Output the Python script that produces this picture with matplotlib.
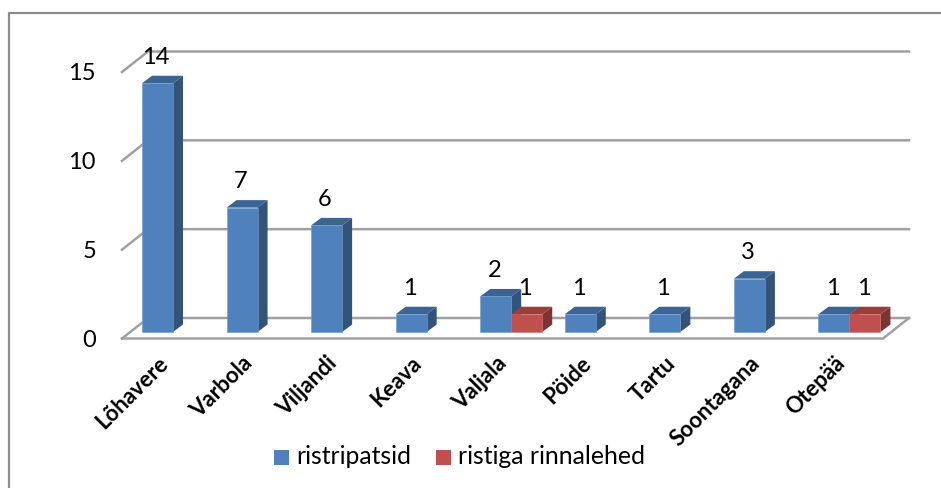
import matplotlib
matplotlib.use('Agg')
import matplotlib.pyplot as plt
from matplotlib.patches import Polygon, Rectangle

categories = ['Lõhavere', 'Varbola', 'Viljandi', 'Keava', 'Valjala',
              'Pöide', 'Tartu', 'Soontagana', 'Otepää']
ristripatsid = [14, 7, 6, 1, 2, 1, 1, 3, 1]
rinnalehed = [None, None, None, None, 1, None, None, None, 1]
y_ticks = [0, 5, 10, 15]

W, H = 941, 488
plt.rcParams['font.family'] = ['Lato', 'DejaVu Sans']

fig = plt.figure(figsize=(W / 100, H / 100), dpi=100)
# kogu pilti kattev abitelg pikslites, raam ja legend
bg = fig.add_axes([0, 0, 1, 1])
bg.set_xlim(0, W)
bg.set_ylim(H, 0)
bg.axis('off')
bg.plot([9, 9, W], [H, 13, 13], color='#8c8c8c', lw=1.6)

# põhitelg: x kategooriad, y väärtused
x0, x1, y0, y15 = 122, 883, 338.5, 72
ax = fig.add_axes([x0 / W, 1 - y0 / H, (x1 - x0) / W, (y0 - y15) / H])
ax.set_xlim(0, len(categories))
ax.set_ylim(0, 15)
ax.axis('off')

px_x = len(categories) / (x1 - x0)
px_y = 15 / (y0 - y15)
depth_x, depth_y = 26 * px_x, 20.5 * px_y
side_x, side_y = 10 * px_x, 7.5 * px_y
lift_x, lift_y = 20 * px_x, 6.5 * px_y
bar_w = 31 * px_x
grid = '#a0a0a0'

# seinajooned ja põrand
n = len(categories)
for t in y_ticks:
    ax.plot([0, depth_x, n + depth_x], [t, t + depth_y, t + depth_y],
            color=grid, lw=1.8, clip_on=False, solid_joinstyle='miter', zorder=1)
    ax.text(-26 * px_x, t - 2 * px_y, str(t), ha='right', va='center', fontsize=17, zorder=5)
ax.plot([0, n, n + depth_x], [0, 0, depth_y], color=grid, lw=1.8, clip_on=False,
        solid_joinstyle='miter', zorder=1)


def draw_bar(left, value, front, top, side, edge):
    b = lift_y
    h = b + value
    r = left + bar_w
    ax.add_patch(Polygon([(r, b), (r + side_x, b + side_y), (r + side_x, h + side_y), (r, h)],
                         fc=side, ec='none', clip_on=False, zorder=3))
    ax.add_patch(Polygon([(left, h), (left + side_x, h + side_y), (r + side_x, h + side_y), (r, h)],
                         fc=top, ec='none', clip_on=False, zorder=3))
    ax.add_patch(Rectangle((left, b), bar_w, value, fc=front, ec=edge,
                           lw=0.4, clip_on=False, zorder=4))
    ax.text(left + bar_w / 2 - 1.5 * px_x, h + side_y + 8 * px_y, str(value),
            ha='center', va='bottom', fontsize=17, zorder=6)


for i, (a, b) in enumerate(zip(ristripatsid, rinnalehed)):
    left = i + lift_x
    draw_bar(left, a, '#4f81bd', '#3b6494', '#345379', '#6f9bd0')
    if b is not None:
        draw_bar(left + bar_w, b, '#c0504d', '#983e3b', '#7d3331', '#cf706d')
    ax.text(i + 0.42, -14 * px_y, categories[i], rotation=45, ha='right', va='top',
            rotation_mode='anchor', fontsize=16, fontweight='bold', clip_on=False)

# legend
bg.add_patch(Rectangle((274, 450), 15, 15, fc='#4f81bd', ec='none'))
bg.text(296, 457, 'ristripatsid', va='center', fontsize=17.8)
bg.add_patch(Rectangle((436, 450), 15, 15, fc='#c0504d', ec='none'))
bg.text(458, 457, 'ristiga rinnalehed', va='center', fontsize=17.8)

fig.savefig('out.png', dpi=100)
